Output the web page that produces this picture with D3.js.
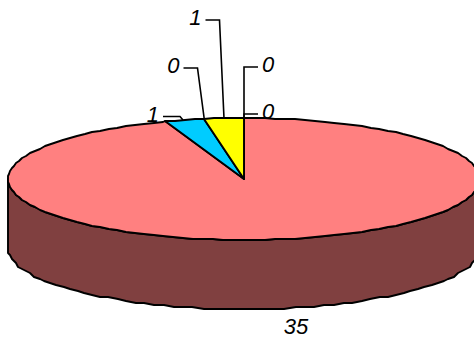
<!DOCTYPE html>
<html>
<head>
<meta charset="utf-8">
<script src="https://cdn.jsdelivr.net/npm/d3@7"></script>
<style>
html, body { margin: 0; padding: 0; background: #fff; overflow: hidden; }
text { font-family: "Liberation Sans", Arial, sans-serif; font-style: italic; font-size: 22px; }
</style>
</head>
<body>
<div id="chart"></div>
<script>
// slices run clockwise from 12 o'clock
var values = [35, 1, 0, 1, 0, 0];
var colors = ["#FF8080", "#00CCFF", "#FF00FF", "#FFFF00", "#00FF00", "#0000FF"];
var sideColor = "#804040";

var width = 474, height = 338;
var cx = 244, cy = 179, rx = 236, ry = 61, depth = 69;

var svg = d3.select("#chart").append("svg")
	.attr("width", width)
	.attr("height", height)
	.style("display", "block");

var pie = d3.pie().sort(null).value(function(d) { return d; });
var arcs = pie(values);

var xPos = d3.scaleLinear().domain([-1, 1]).range([cx - rx, cx + rx]);
var yPos = d3.scaleLinear().domain([-1, 1]).range([cy - ry, cy + ry]);

function rim(a, grid) {
	return [Math.round(xPos(Math.sin(a)) / grid) * grid, Math.round(yPos(-Math.cos(a)) / grid) * grid];
}

// the rim is a coarse polygon, like the original renderer
function rimPoints(a0, a1, step, grid) {
	var pts = d3.range(a0, a1, step).map(function(a) { return rim(a, grid); });
	pts.push(rim(a1, grid));
	return pts;
}

var line = d3.line();
var step = Math.PI / 72;

// side wall, front half only
var front = rimPoints(Math.PI / 2, Math.PI * 1.5, step, 1);
var lower = rimPoints(Math.PI / 2, Math.PI * 1.5, step, 2)
	.map(function(p) { return [p[0], p[1] + depth]; })
	.reverse();

svg.append("path")
	.attr("d", line(front.concat(lower)) + "Z")
	.attr("fill", sideColor)
	.attr("stroke", "#000")
	.attr("stroke-width", 1.9)
	.attr("stroke-linejoin", "round");

// top faces
svg.selectAll("path.slice")
	.data(arcs.filter(function(d) { return d.value > 0; }))
	.enter().append("path")
	.attr("class", "slice")
	.attr("d", function(d) {
		return line([[cx, cy]].concat(rimPoints(d.startAngle, d.endAngle, step, 1))) + "Z";
	})
	.attr("fill", function(d) { return colors[d.index]; })
	.attr("stroke", "#000")
	.attr("stroke-width", 1.9)
	.attr("stroke-linejoin", "round");

// labels and their leaders, in the same order as values
var leaders = [
	{ label: [296, 326] },
	{ bend: [163, 116.5], from: [183, 120], anchor: "end" },
	{ bend: [197.5, 68], anchor: "end" },
	{ bend: [219.5, 20], anchor: "end" },
	{ bend: [244, 67], anchor: "start" },
	{ bend: [244, 114], anchor: "start" }
];

arcs.forEach(function(d, i) {
	var l = leaders[i];
	if (l.label) {
		svg.append("text")
			.attr("x", l.label[0])
			.attr("y", l.label[1] + 8)
			.attr("text-anchor", "middle")
			.text(d.value);
		return;
	}
	var mid = (d.startAngle + d.endAngle) / 2;
	var start = l.from || [xPos(Math.sin(mid)), 118];
	var dir = l.anchor === "end" ? -1 : 1;
	var end = [l.bend[0] + dir * 14, l.bend[1]];
	var pts = i === 1
		? [start, [l.bend[0] + 17, l.bend[1]], [l.bend[0], l.bend[1]]]
		: [start, l.bend, end];
	svg.append("path")
		.attr("d", line(pts))
		.attr("fill", "none")
		.attr("stroke", "#000")
		.attr("stroke-width", 1.6);
	svg.append("text")
		.attr("x", pts[2][0] + dir * 4)
		.attr("y", l.bend[1] + 5)
		.attr("text-anchor", l.anchor)
		.text(d.value);
});
</script>
</body>
</html>
